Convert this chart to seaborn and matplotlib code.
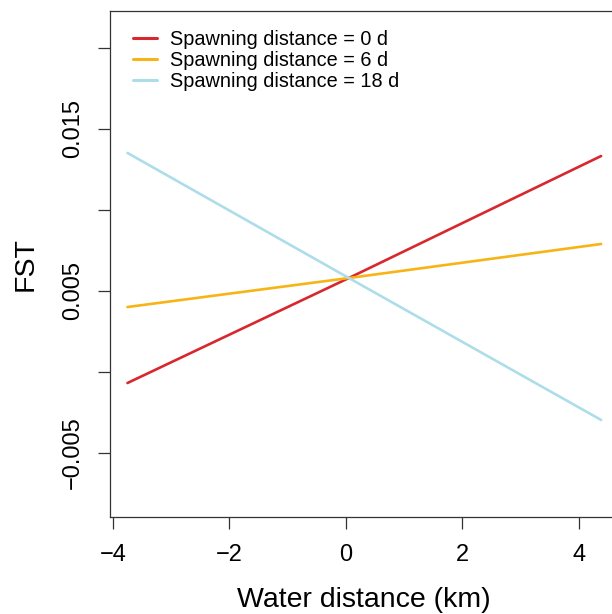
import pandas as pd
import seaborn as sns
from matplotlib import pyplot as plt

# values
series = ["Spawning distance = 0 d", "Spawning distance = 6 d", "Spawning distance = 18 d"]
colors = ["#D7282F", "#F7B416", "#AEDDEA"]
x_vals = [-3.75, 0.05, 4.38]
fst_0d = [-0.00068, 0.0058, 0.01333]
fst_6d = [0.00401, 0.0058, 0.0079]
fst_18d = [0.01352, 0.0058, -0.00296]

yticks = [-0.005, 0.0, 0.005, 0.010, 0.015, 0.020]
ytick_labels = ["\u22120.005", "", "0.005", "", "0.015", ""]
xticks = [-4, -2, 0, 2, 4]
xtick_labels = ["\u22124", "\u22122", "0", "2", "4"]

rows = []
for name, ys in zip(series, [fst_0d, fst_6d, fst_18d]):
    for xv, yv in zip(x_vals, ys):
        rows.append({"x": xv, "fst": yv, "series": name})
df = pd.DataFrame(rows)

sns.set_style("white")
plt.rcParams['font.family'] = ['Liberation Sans', 'DejaVu Sans']
plt.rcParams['text.color'] = 'black'
plt.rcParams['axes.labelcolor'] = 'black'
plt.rcParams['xtick.color'] = 'black'
plt.rcParams['ytick.color'] = 'black'

fig = plt.figure(figsize=(6.12, 6.14), dpi=100)
ax = fig.add_axes([110 / 612, 97 / 614, 508 / 612, 506 / 614])

sns.lineplot(data=df, x="x", y="fst", hue="series", hue_order=series,
             palette=colors, linewidth=1.9, ax=ax)

ax.set_xlim(-4.05, 4.67)
ax.set_ylim(-0.00895, 0.02228)
ax.set_xticks(xticks)
ax.set_xticklabels(xtick_labels)
ax.set_yticks(yticks)
ax.set_yticklabels(ytick_labels, rotation=90, va="center")

ax.tick_params(axis="both", direction="out", length=8.5, width=0.9,
               color="#333333", labelsize=17, pad=10,
               bottom=True, left=True)
ax.tick_params(axis="x", pad=11)
for s in ax.spines.values():
    s.set_color("#333333")
    s.set_linewidth(0.9)

ax.set_xlabel("Water distance (km)", fontsize=20.5, labelpad=15)
ax.set_ylabel("FST", fontsize=20.5, labelpad=17)

leg = ax.legend(loc="upper left", bbox_to_anchor=(0.030, 0.979), frameon=False,
                fontsize=14.3, handlelength=1.2, handletextpad=0.65,
                labelspacing=0.1, borderaxespad=0)
for h in leg.get_lines():
    h.set_linewidth(2.2)

fig.savefig("out.png", dpi=100)
